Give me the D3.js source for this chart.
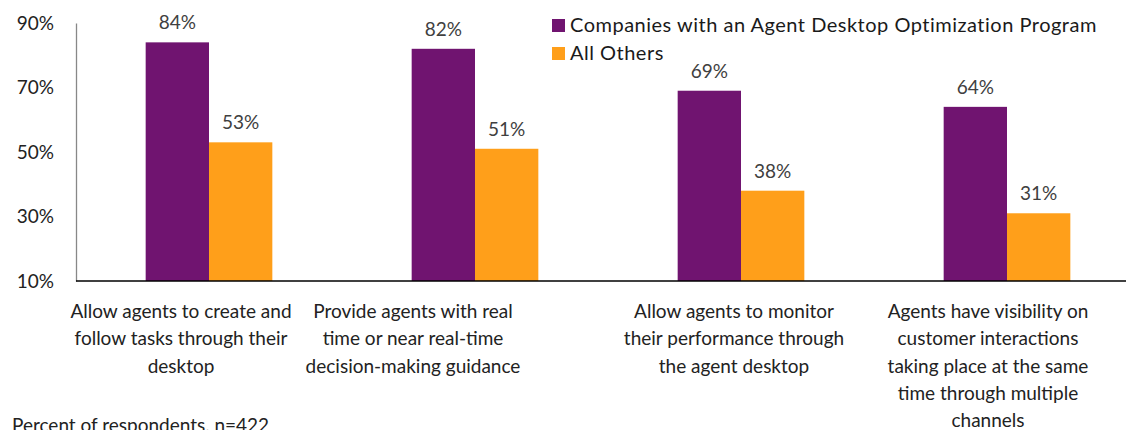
<!DOCTYPE html>
<html>
<head>
<meta charset="utf-8">
<script src="https://cdn.jsdelivr.net/npm/d3@7"></script>
<style>
	body { margin: 0; background: #fff; }
	svg { display: block; font-family: Lato, "Noto Sans", sans-serif; }
</style>
</head>
<body>
<div id="chart"></div>
<script>

var categories = [
	["Allow agents to create and", "follow tasks through their", "desktop"],
	["Provide agents with real", "time or near real-time", "decision-making guidance"],
	["Allow agents to monitor", "their performance through", "the agent desktop"],
	["Agents have visibility on", "customer interactions", "taking place at the same", "time through multiple", "channels"]
];
var seriesNames = ["Companies with an Agent Desktop Optimization Program", "All Others"];
var programValues = [84, 82, 69, 64];
var otherValues = [53, 51, 38, 31];
var yTicks = [10, 30, 50, 70, 90];

var colors = ["#701470", "#ff9f1a"];
var labelShift = [-28, -62, -7, -19]; //category labels in the source sit left of the bars

var w = 1126, h = 430;

var svg = d3.select("#chart")
	.append("svg")
	.attr("width", w)
	.attr("height", h);

var xScale = d3.scaleBand()
	.domain(d3.range(categories.length))
	.range([76, 1140])
	.paddingInner(0)
	.paddingOuter(0);

var inner = d3.scaleBand()
	.domain([0, 1])
	.range([0, xScale.bandwidth()])
	.paddingOuter(1.1);

var yScale = d3.scaleLinear()
	.domain([10, 90])
	.range([281, 23]);

// y axis
var yAxis = svg.append("g")
	.attr("transform", "translate(76,0)")
	.call(d3.axisLeft(yScale).tickValues(yTicks).tickSize(0).tickPadding(22).tickFormat(d => d + "%"));

yAxis.select(".domain").attr("stroke", "#888").attr("stroke-width", 1.3);
yAxis.selectAll("text")
	.attr("font-size", 19)
	.attr("fill", "#222")
	.attr("font-family", "Lato, sans-serif");

// bars
var rows = programValues.map((v, i) => [v, otherValues[i]]);

var groups = svg.selectAll("g.group")
	.data(rows)
	.enter()
	.append("g")
	.attr("class", "group")
	.attr("transform", (d, i) => "translate(" + xScale(i) + ",0)");

groups.selectAll("rect")
	.data(d => d)
	.enter()
	.append("rect")
	.attr("x", (d, j) => inner(j))
	.attr("width", inner.bandwidth())
	.attr("y", d => yScale(d))
	.attr("height", d => yScale(10) - yScale(d))
	.attr("fill", (d, j) => colors[j]);

groups.selectAll("text.value")
	.data(d => d)
	.enter()
	.append("text")
	.attr("class", "value")
	.attr("x", (d, j) => inner(j) + inner.bandwidth() / 2)
	.attr("y", d => yScale(d) - 13)
	.attr("text-anchor", "middle")
	.attr("font-size", 19)
	.attr("fill", "#404040")
	.text(d => d + "%");

// x axis line
svg.append("line")
	.attr("x1", 76)
	.attr("x2", w)
	.attr("y1", yScale(10))
	.attr("y2", yScale(10))
	.attr("stroke", "#000")
	.attr("stroke-width", 1.5);

// category labels
svg.selectAll("text.cat")
	.data(categories)
	.enter()
	.append("text")
	.attr("class", "cat")
	.attr("text-anchor", "middle")
	.attr("font-size", 19)
	.attr("fill", "#222")
	.each(function(lines, i) {
		var x = xScale(i) + xScale.bandwidth() / 2 + labelShift[i];
		d3.select(this).selectAll("tspan")
			.data(lines)
			.enter()
			.append("tspan")
			.attr("x", x)
			.attr("y", (d, k) => 318 + k * 27.3)
			.text(d => d);
	});

// legend
var legend = svg.append("g")
	.attr("transform", "translate(552,19)");

legend.selectAll("rect")
	.data(seriesNames)
	.enter()
	.append("rect")
	.attr("x", 0)
	.attr("y", (d, i) => i * 28)
	.attr("width", 13)
	.attr("height", 13)
	.attr("fill", (d, i) => colors[i]);

legend.selectAll("text")
	.data(seriesNames)
	.enter()
	.append("text")
	.attr("x", 18)
	.attr("y", (d, i) => i * 28 + 13)
	.attr("font-size", 20)
	.attr("letter-spacing", 0.5)
	.attr("fill", "#1a1a1a")
	.text(d => d);

// footnote
svg.append("text")
	.attr("x", 12)
	.attr("y", 432)
	.attr("font-size", 19)
	.attr("fill", "#222")
	.text("Percent of respondents, n=422");

</script>
</body>
</html>
